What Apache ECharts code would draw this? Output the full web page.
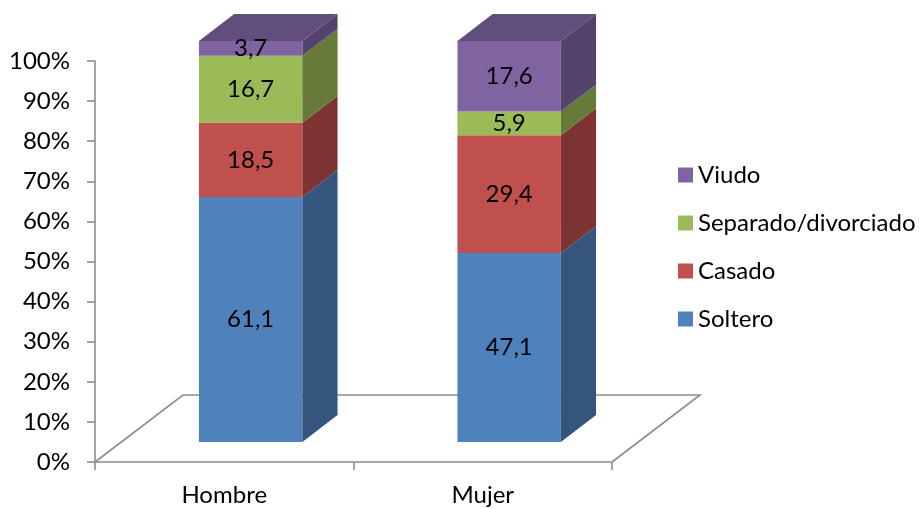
<!DOCTYPE html>
<html>
<head>
<meta charset="utf-8">
<script src="https://cdn.jsdelivr.net/npm/echarts@6/dist/echarts.min.js"></script>
<style>
  html, body { margin: 0; padding: 0; background: #ffffff; }
  #chart { width: 924px; height: 509px; }
</style>
</head>
<body>
<div id="chart"></div>
<script>
// Estado civil por sexo (porcentajes)
const categories = ['Hombre', 'Mujer'];
const soltero = [61.1, 47.1];
const casado = [18.5, 29.4];
const separado = [16.7, 5.9];
const viudo = [3.7, 17.6];
const seriesNames = ['Soltero', 'Casado', 'Separado/divorciado', 'Viudo'];
const legendOrder = ['Viudo', 'Separado/divorciado', 'Casado', 'Soltero'];

// Stack order, bottom to top, with front / side / top face colours
const stackDefs = [
  { name: seriesNames[0], values: soltero,  front: '#4F81BD', side: '#36557E', top: '#41699A' },
  { name: seriesNames[1], values: casado,   front: '#C0504D', side: '#7D3332', top: '#9E413E' },
  { name: seriesNames[2], values: separado, front: '#9BBB59', side: '#667A3A', top: '#7F9A48' },
  { name: seriesNames[3], values: viudo,    front: '#8064A2', side: '#54436A', top: '#624E7C' }
];

// Pseudo-3D depth of the floor and where the columns sit inside it
const DEPTH_X = 88;
const DEPTH_Y = -67;
const BAR_NEAR = 0.30;
const BAR_FAR = 0.70;
const BAR_WIDTH = 0.40;

const AXIS_GREY = '#8C8C8C';
const FONT = 'Lato, "Open Sans", sans-serif';
const FONT_SIZE = 24;

function fmt(v) {
  return v.toFixed(1).replace('.', ',');
}

// cumulative bases for stacking
const bases = categories.map(() => 0);
const stackData = stackDefs.map(def => {
  const rows = def.values.map((v, i) => {
    const row = [i, bases[i], v];
    bases[i] += v;
    return row;
  });
  return rows;
});

function segmentRenderer(def, isTop) {
  return function (params, api) {
    const cat = api.value(0);
    const base = api.value(1);
    const val = api.value(2);
    const pBottom = api.coord([cat, base]);
    const pTop = api.coord([cat, base + val]);
    const slot = api.size([1, 0])[0];
    const w = slot * BAR_WIDTH;
    const nx = DEPTH_X * BAR_NEAR, ny = DEPTH_Y * BAR_NEAR;
    const bx = DEPTH_X * (BAR_FAR - BAR_NEAR), by = DEPTH_Y * (BAR_FAR - BAR_NEAR);
    const x0 = pBottom[0] - w / 2 + nx;
    const x1 = x0 + w;
    const yb = pBottom[1] + ny;
    const yt = pTop[1] + ny;
    const children = [
      {
        type: 'rect',
        shape: { x: x0, y: yt, width: w, height: yb - yt },
        style: { fill: def.front }
      },
      {
        type: 'polygon',
        shape: { points: [[x1, yb], [x1 + bx, yb + by], [x1 + bx, yt + by], [x1, yt]] },
        style: { fill: def.side }
      }
    ];
    if (isTop) {
      children.push({
        type: 'polygon',
        shape: { points: [[x0, yt], [x1, yt], [x1 + bx, yt + by], [x0 + bx, yt + by]] },
        style: { fill: def.top }
      });
    }
    children.push({
      type: 'text',
      z2: 100,
      style: {
        text: fmt(val),
        x: (x0 + x1) / 2,
        y: (yb + yt) / 2,
        align: 'center',
        verticalAlign: 'middle',
        fill: '#000000',
        font: FONT_SIZE + 'px ' + FONT
      }
    });
    return { type: 'group', children: children };
  };
}

function floorRenderer(params, api) {
  const cs = params.coordSys;
  const fx0 = cs.x, fx1 = cs.x + cs.width, fy = cs.y + cs.height;
  const lineStyle = { stroke: AXIS_GREY, lineWidth: 1.6, fill: null };
  return {
    type: 'group',
    children: [
      { type: 'polyline',
        shape: { points: [[fx0, fy], [fx0 + DEPTH_X, fy + DEPTH_Y], [fx1 + DEPTH_X, fy + DEPTH_Y], [fx1, fy]] },
        style: lineStyle }
    ]
  };
}

const series = [
  {
    type: 'custom',
    name: 'floor',
    z: 1,
    silent: true,
    data: [[0, 0]],
    renderItem: floorRenderer
  }
];
stackDefs.forEach((def, k) => {
  series.push({
    type: 'custom',
    name: def.name,
    z: 2,
    itemStyle: { color: def.front },
    data: stackData[k],
    encode: { x: 0, y: [1, 2] },
    renderItem: segmentRenderer(def, k === stackDefs.length - 1)
  });
});

const chart = echarts.init(document.getElementById('chart'), null, { renderer: 'canvas' });
chart.setOption({
  animation: false,
  backgroundColor: '#ffffff',
  textStyle: { fontFamily: FONT },
  grid: { left: 95, right: 312, top: 61, bottom: 47, containLabel: false, outerBoundsMode: 'none' },
  legend: {
    data: legendOrder,
    orient: 'vertical',
    left: 673,
    top: 156,
    icon: 'rect',
    itemWidth: 15,
    itemHeight: 15,
    itemGap: 20,
    selectedMode: false,
    textStyle: { fontSize: FONT_SIZE, fontFamily: FONT, color: '#000000', lineHeight: 28 }
  },
  xAxis: {
    type: 'category',
    data: categories,
    axisLine: { lineStyle: { color: AXIS_GREY, width: 1.6 } },
    axisTick: { show: true, length: 8, lineStyle: { color: AXIS_GREY, width: 1.6 } },
    axisLabel: { fontSize: FONT_SIZE, fontFamily: FONT, color: '#000000', margin: 21 },
    splitLine: { show: false }
  },
  yAxis: {
    type: 'value',
    min: 0,
    max: 100,
    interval: 10,
    axisLine: { show: true, lineStyle: { color: AXIS_GREY, width: 1.6 } },
    axisTick: { show: true, length: 8, lineStyle: { color: AXIS_GREY, width: 1.6 } },
    axisLabel: { fontSize: FONT_SIZE, fontFamily: FONT, color: '#000000', margin: 25, formatter: '{value}%' },
    splitLine: { show: false }
  },
  series: series
});
</script>
</body>
</html>
